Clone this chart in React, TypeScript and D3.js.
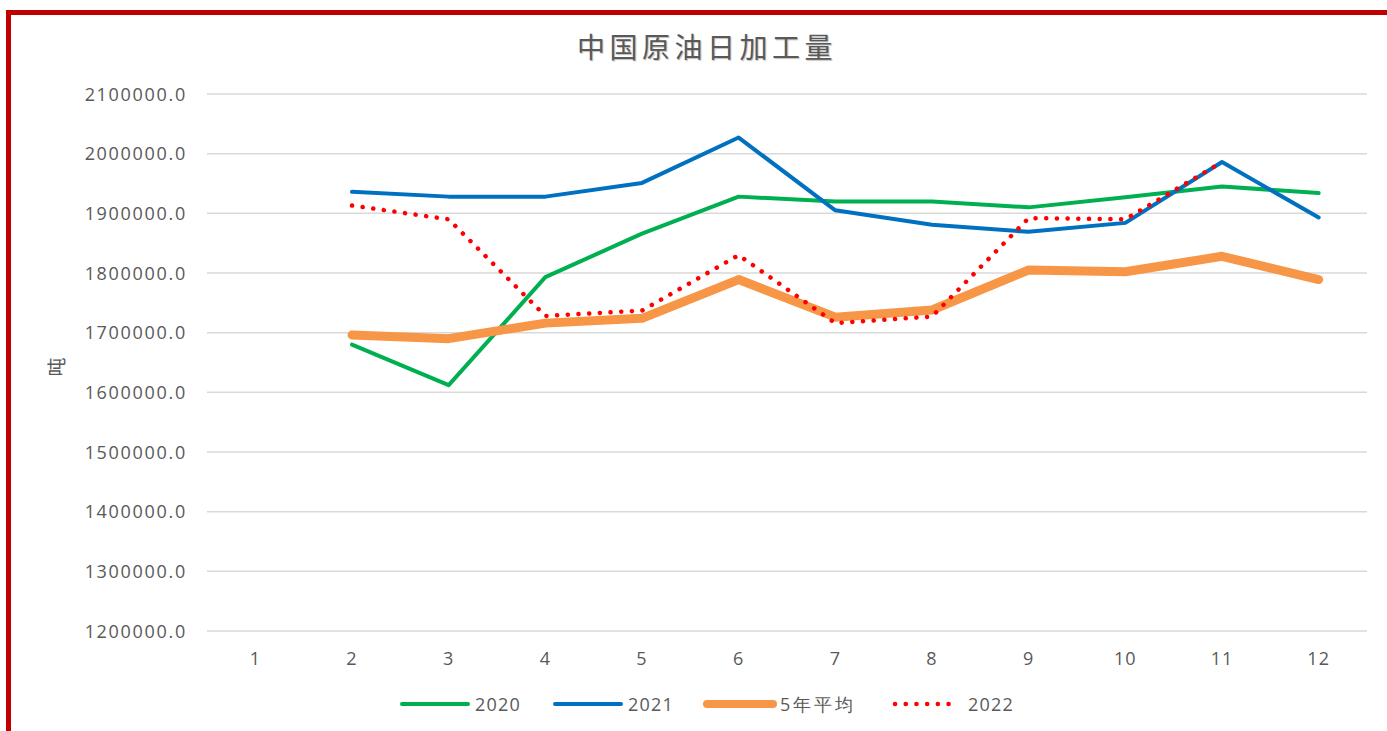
import React, { useEffect, useRef } from "react";
import * as d3 from "d3";

const months = ["1", "2", "3", "4", "5", "6", "7", "8", "9", "10", "11", "12"];
const yTicks = [1200000, 1300000, 1400000, 1500000, 1600000, 1700000, 1800000, 1900000, 2000000, 2100000];

// null = no data for that month
const s2020 = [null, 1680000, 1612000, 1793000, 1866000, 1928000, 1920000, 1920000, 1910000, 1927000, 1945000, 1934000];
const s2021 = [null, 1936000, 1928000, 1928000, 1951000, 2027000, 1905000, 1881000, 1869000, 1884000, 1986000, 1893000];
const sAvg = [null, 1696000, 1690000, 1716000, 1724000, 1789000, 1726000, 1738000, 1805000, 1802000, 1828000, 1789000];
const s2022 = [null, 1913000, 1890000, 1728000, 1737000, 1830000, 1716000, 1727000, 1892000, 1890000, 1986000, null];

const series = [
  { name: "2020", values: s2020, color: "#00B050", width: 4, dash: null },
  { name: "2021", values: s2021, color: "#0070C0", width: 4, dash: null },
  { name: "5年平均", values: sAvg, color: "#F79646", width: 9, dash: null },
  { name: "2022", values: s2022, color: "#FF0000", width: 4.5, dash: "0.1 10.6" },
];

const W = 1387;
const H = 731;
const margin = { left: 207, right: 20, top: 94, bottom: 100 };

const App = () => {
  const ref = useRef<SVGSVGElement>(null);

  useEffect(() => {
    const svg = d3.select(ref.current);
    svg.selectAll("*").remove();

    const x = d3.scaleBand().domain(months).range([margin.left, W - margin.right]);
    const y = d3.scaleLinear().domain([1200000, 2100000]).range([631, margin.top]);
    const font = "'Open Sans', 'Noto Sans', sans-serif";

    // red frame
    svg.append("rect")
      .attr("x", 8.5).attr("y", 12.5)
      .attr("width", W + 20).attr("height", H + 20)
      .attr("fill", "none").attr("stroke", "#C00000").attr("stroke-width", 5);

    // title
    svg.append("text")
      .attr("x", 707).attr("y", 58)
      .attr("text-anchor", "middle")
      .attr("font-family", "'Noto Sans CJK SC', sans-serif")
      .attr("font-size", 28).attr("fill", "#595959")
      .attr("letter-spacing", 4.5)
      .style("text-shadow", "1px 1px 1px rgba(0,0,0,0.25)")
      .text("中国原油日加工量");

    // grid + y labels
    const grid = svg.append("g");
    yTicks.forEach((t) => {
      grid.append("line")
        .attr("x1", margin.left).attr("x2", W - margin.right)
        .attr("y1", y(t)).attr("y2", y(t))
        .attr("stroke", "#D9D9D9").attr("stroke-width", 1.5);
      grid.append("text")
        .attr("x", 187).attr("y", y(t) + 6.5)
        .attr("text-anchor", "end")
        .attr("font-family", font).attr("font-size", 18).attr("fill", "#595959")
        .attr("letter-spacing", 1.7)
        .text(d3.format(".1f")(t));
    });

    // x labels
    months.forEach((m) => {
      svg.append("text")
        .attr("x", (x(m) as number) + x.bandwidth() / 2).attr("y", 665)
        .attr("text-anchor", "middle")
        .attr("font-family", font).attr("font-size", 18).attr("fill", "#595959")
        .attr("letter-spacing", 1)
        .text(m);
    });

    // y axis title
    svg.append("text")
      .attr("transform", "translate(64,367) rotate(-90)")
      .attr("text-anchor", "middle")
      .attr("font-family", "'Noto Sans CJK SC', sans-serif")
      .attr("font-size", 19).attr("fill", "#595959")
      .text("吨");

    // lines
    const line = d3.line<number | null>()
      .defined((d) => d != null)
      .x((d, i) => (x(months[i]) as number) + x.bandwidth() / 2)
      .y((d) => y(d as number));

    series.forEach((s) => {
      const p = svg.append("path")
        .datum(s.values)
        .attr("d", line)
        .attr("fill", "none")
        .attr("stroke", s.color)
        .attr("stroke-width", s.width)
        .attr("stroke-linecap", "round")
        .attr("stroke-linejoin", "round");
      if (s.dash) p.attr("stroke-dasharray", s.dash);
    });

    // legend
    const legendX = [400, 553, 705, 893];
    series.forEach((s, i) => {
      const g = svg.append("g").attr("transform", `translate(${legendX[i]},704)`);
      const l = g.append("line")
        .attr("x1", 2).attr("x2", 68)
        .attr("stroke", s.color)
        .attr("stroke-width", s.dash ? 4.5 : s.width > 5 ? 8 : 4)
        .attr("stroke-linecap", "round");
      if (s.dash) l.attr("stroke-dasharray", "0.1 10.6").attr("x2", 62);
      g.append("text")
        .attr("x", 75).attr("y", 7)
        .attr("font-family", font).attr("font-size", 18).attr("fill", "#595959")
        .attr("letter-spacing", /[^\d]/.test(s.name) ? 3 : 1.2)
        .text(s.name);
    });
  }, []);

  return (
    <svg
      ref={ref}
      width={W}
      height={H}
      style={{ position: "absolute", left: 0, top: 0, background: "#fff" }}
    />
  );
};

export default App;
